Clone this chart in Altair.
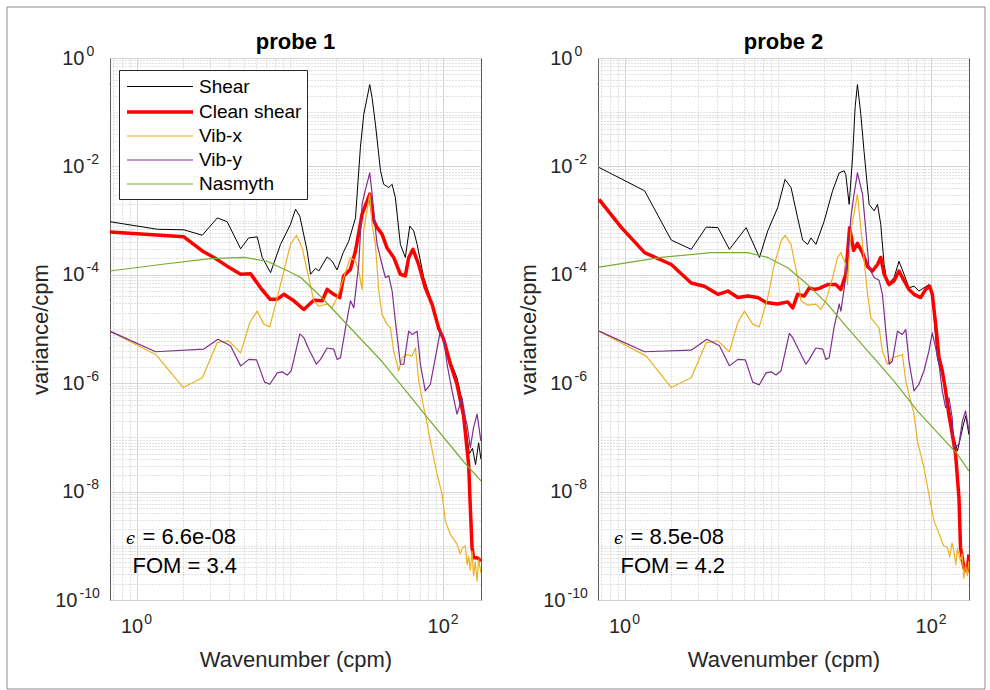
import pandas as pd
import altair as alt

FONT = "Liberation Sans, Arial, Helvetica, sans-serif"

SERIES = ["Shear", "Clean shear", "Vib-x", "Vib-y", "Nasmyth"]
COLORS = ["#000000", "#ff0000", "#edb120", "#7e2f8e", "#77ac30"]
WIDTHS = [1.0, 3.5, 1.2, 1.2, 1.2]

K_RANGE = [0.67, 176.0]     # wavenumber axis (cpm)
P_RANGE = [1e-10, 1.0]      # spectrum axis (variance/cpm)

# Spectra as (log10 wavenumber [cpm], log10 spectrum [variance/cpm]) pairs.
# ---------------- probe 1 ----------------
P1_SHEAR = [(-0.175, -3.02), (0.135, -3.16), (0.308, -3.17), (0.428, -3.27), (0.526, -2.95),
            (0.59, -3.02), (0.678, -3.52), (0.73, -3.32), (0.786, -3.30), (0.819, -3.68),
            (0.873, -3.96), (0.938, -3.44), (1.003, -3.07), (1.036, -2.79), (1.064, -2.92),
            (1.112, -3.56), (1.134, -3.99), (1.166, -3.88), (1.188, -3.93), (1.242, -3.67),
            (1.275, -3.75), (1.307, -3.91), (1.347, -3.59), (1.383, -3.38), (1.427, -2.95),
            (1.459, -1.65), (1.481, -1.04), (1.503, -0.73), (1.52, -0.49), (1.535, -0.73),
            (1.557, -1.22), (1.59, -2.08), (1.611, -2.33), (1.644, -2.39), (1.666, -2.33),
            (1.687, -2.58), (1.72, -3.44), (1.752, -3.68), (1.781, -3.10), (1.807, -3.19),
            (1.829, -3.44), (1.872, -4.05), (1.915, -4.42), (1.959, -4.91), (2.002, -5.16),
            (2.046, -5.59), (2.089, -5.90), (2.12, -6.3), (2.15, -6.9), (2.17, -7.3),
            (2.19, -7.2), (2.21, -7.5), (2.23, -7.1), (2.245, -7.4)]
P1_CLEAN = [(-0.175, -3.21), (0.308, -3.30), (0.428, -3.56), (0.504, -3.68), (0.59, -3.84),
            (0.678, -3.99), (0.743, -3.98), (0.808, -4.24), (0.869, -4.45), (0.917, -4.45),
            (0.96, -4.36), (1.025, -4.48), (1.09, -4.64), (1.155, -4.47), (1.21, -4.48),
            (1.242, -4.27), (1.285, -4.36), (1.324, -4.42), (1.35, -4.02), (1.394, -3.90),
            (1.427, -3.56), (1.47, -2.88), (1.52, -2.51), (1.546, -3.0), (1.568, -3.13),
            (1.60, -3.25), (1.632, -3.50), (1.676, -3.68), (1.72, -3.99), (1.752, -4.02),
            (1.774, -3.68), (1.802, -3.53), (1.839, -3.81), (1.882, -4.24), (1.926, -4.54),
            (1.969, -4.98), (2.002, -5.19), (2.046, -5.65), (2.089, -6.02), (2.132, -6.6),
            (2.165, -7.5), (2.176, -8.3), (2.187, -9.03), (2.197, -9.22), (2.22, -9.22),
            (2.245, -9.28)]
P1_VIBX = [(-0.175, -5.04), (0.124, -5.47), (0.304, -6.08), (0.428, -5.90), (0.526, -5.25),
           (0.601, -5.22), (0.678, -5.44), (0.738, -4.88), (0.786, -4.67), (0.829, -4.91),
           (0.868, -4.96), (0.917, -4.42), (0.96, -3.93), (1.003, -3.44), (1.042, -3.27),
           (1.079, -3.50), (1.122, -4.05), (1.155, -4.48), (1.188, -4.58), (1.242, -4.54),
           (1.275, -4.61), (1.307, -4.42), (1.35, -4.05), (1.394, -3.68), (1.427, -3.75),
           (1.448, -3.93), (1.47, -4.27), (1.48, -3.19), (1.52, -2.51), (1.535, -3.07),
           (1.557, -3.44), (1.579, -4.30), (1.60, -4.73), (1.632, -4.91), (1.655, -4.98),
           (1.676, -5.41), (1.709, -5.77), (1.731, -5.53), (1.763, -5.47), (1.796, -5.50),
           (1.818, -5.35), (1.84, -5.96), (1.872, -6.45), (1.882, -6.57), (1.915, -7.07),
           (1.959, -7.68), (1.992, -8.05), (2.013, -8.54), (2.046, -8.79), (2.089, -8.97),
           (2.11, -9.15), (2.122, -9.05), (2.143, -9.0), (2.155, -9.35), (2.165, -9.20),
           (2.176, -9.45), (2.187, -9.10), (2.197, -9.55), (2.208, -9.30), (2.22, -9.65),
           (2.23, -9.25), (2.245, -9.50)]
P1_VIBY = [(-0.175, -5.04), (0.124, -5.42), (0.438, -5.37), (0.53, -5.19), (0.612, -5.31),
           (0.678, -5.68), (0.732, -5.56), (0.782, -5.57), (0.834, -5.98), (0.868, -6.02),
           (0.917, -5.81), (0.949, -5.79), (0.982, -5.85), (1.008, -5.77), (1.064, -5.09),
           (1.09, -5.16), (1.122, -5.37), (1.172, -5.65), (1.199, -5.56), (1.242, -5.35),
           (1.285, -5.37), (1.307, -5.56), (1.329, -5.53), (1.362, -4.98), (1.394, -4.48),
           (1.416, -4.61), (1.448, -3.81), (1.47, -2.70), (1.49, -2.45), (1.52, -2.12),
           (1.535, -2.5), (1.55, -2.95), (1.568, -3.44), (1.60, -3.81), (1.622, -4.05),
           (1.644, -4.02), (1.666, -4.30), (1.687, -4.85), (1.72, -5.65), (1.742, -5.65),
           (1.774, -5.04), (1.796, -5.10), (1.829, -5.04), (1.85, -5.65), (1.882, -6.14),
           (1.915, -6.02), (1.948, -5.53), (1.98, -5.04), (2.002, -5.16), (2.024, -5.65),
           (2.057, -6.14), (2.089, -6.57), (2.122, -6.27), (2.143, -6.64), (2.154, -6.76),
           (2.176, -7.19), (2.197, -6.82), (2.22, -6.57), (2.245, -7.07)]
P1_NASMYTH = [(-0.175, -3.93), (0.156, -3.81), (0.48, -3.70), (0.70, -3.68), (0.85, -3.75),
              (0.98, -3.92), (1.07, -4.05), (1.2, -4.40), (1.3, -4.70), (1.4, -5.0),
              (1.6, -5.6), (1.7, -5.95), (1.9, -6.65), (2.13, -7.44), (2.245, -7.80)]

# ---------------- probe 2 ----------------
P2_SHEAR = [(-0.167, -2.02), (0.13, -2.45), (0.304, -3.36), (0.434, -3.53), (0.532, -3.12),
            (0.608, -3.13), (0.683, -3.53), (0.792, -3.13), (0.879, -3.68), (0.933, -3.19),
            (0.998, -2.76), (1.046, -2.24), (1.085, -2.39), (1.128, -2.95), (1.161, -3.36),
            (1.193, -3.44), (1.215, -3.32), (1.247, -3.44), (1.301, -3.01), (1.356, -2.45),
            (1.399, -2.12), (1.431, -2.08), (1.442, -2.15), (1.464, -2.70), (1.486, -1.84),
            (1.503, -0.9), (1.518, -0.49), (1.54, -1.04), (1.561, -1.72), (1.594, -2.70),
            (1.627, -2.82), (1.649, -2.70), (1.670, -3.07), (1.692, -3.81), (1.714, -4.18),
            (1.757, -4.05), (1.789, -3.75), (1.822, -3.99), (1.854, -4.24), (1.887, -4.21),
            (1.919, -4.30), (1.952, -4.24), (1.984, -4.18), (2.006, -4.36), (2.021, -4.91),
            (2.039, -5.53), (2.06, -5.77), (2.082, -5.90), (2.104, -6.27), (2.125, -6.60),
            (2.147, -7.0), (2.17, -7.25), (2.19, -7.0), (2.21, -6.75), (2.225, -6.6),
            (2.245, -6.95)]
P2_CLEAN = [(-0.167, -2.61), (-0.021, -3.13), (0.13, -3.59), (0.304, -3.81), (0.434, -4.15),
            (0.52, -4.21), (0.608, -4.36), (0.673, -4.30), (0.738, -4.42), (0.803, -4.39),
            (0.868, -4.42), (0.922, -4.51), (0.998, -4.54), (1.063, -4.50), (1.096, -4.61),
            (1.128, -4.36), (1.171, -4.39), (1.204, -4.24), (1.236, -4.27), (1.269, -4.25),
            (1.323, -4.18), (1.377, -4.18), (1.41, -4.27), (1.442, -3.99), (1.467, -3.13),
            (1.493, -3.55), (1.518, -3.42), (1.551, -3.59), (1.584, -3.85), (1.616, -3.93),
            (1.649, -3.81), (1.670, -3.68), (1.692, -3.99), (1.724, -4.18), (1.757, -4.11),
            (1.789, -3.93), (1.822, -4.11), (1.854, -4.27), (1.887, -4.36), (1.930, -4.42),
            (1.963, -4.27), (1.989, -4.21), (2.006, -4.36), (2.028, -4.91), (2.05, -5.53),
            (2.071, -5.77), (2.093, -6.14), (2.115, -6.6), (2.125, -6.75), (2.158, -7.31),
            (2.18, -8.11), (2.19, -9.03), (2.212, -9.40), (2.234, -9.47), (2.245, -9.16)]
P2_VIBX = [(-0.167, -5.04), (0.141, -5.50), (0.304, -6.08), (0.434, -5.90), (0.532, -5.25),
           (0.608, -5.22), (0.683, -5.42), (0.738, -4.88), (0.781, -4.67), (0.835, -4.91),
           (0.878, -4.96), (0.933, -4.42), (0.976, -3.81), (1.02, -3.38), (1.046, -3.27),
           (1.085, -3.44), (1.128, -4.05), (1.15, -4.48), (1.193, -4.56), (1.247, -4.54),
           (1.28, -4.64), (1.312, -4.48), (1.356, -4.05), (1.388, -3.68), (1.41, -3.59),
           (1.442, -3.81), (1.453, -4.18), (1.475, -3.19), (1.518, -2.51), (1.551, -3.44),
           (1.584, -4.36), (1.605, -4.79), (1.638, -4.91), (1.659, -4.98), (1.681, -5.41),
           (1.714, -5.65), (1.746, -5.53), (1.779, -5.50), (1.811, -5.47), (1.833, -5.96),
           (1.865, -6.33), (1.887, -6.57), (1.909, -7.07), (1.952, -7.56), (1.984, -8.05),
           (2.017, -8.54), (2.06, -8.85), (2.08, -9.0), (2.104, -9.03), (2.12, -9.2),
           (2.135, -8.95), (2.147, -9.10), (2.16, -9.35), (2.17, -9.05), (2.19, -9.28),
           (2.20, -9.15), (2.212, -9.6), (2.223, -9.35), (2.235, -9.55), (2.245, -9.28)]
P2_VIBY = [(-0.167, -5.04), (0.13, -5.42), (0.434, -5.39), (0.536, -5.19), (0.618, -5.31),
           (0.683, -5.68), (0.738, -5.56), (0.787, -5.57), (0.835, -5.98), (0.878, -6.03),
           (0.922, -5.81), (0.955, -5.79), (0.987, -5.85), (1.02, -5.77), (1.074, -5.08),
           (1.096, -5.16), (1.132, -5.37), (1.182, -5.65), (1.204, -5.56), (1.247, -5.35),
           (1.291, -5.37), (1.312, -5.56), (1.334, -5.53), (1.366, -4.96), (1.399, -4.54),
           (1.41, -4.67), (1.442, -4.05), (1.475, -2.95), (1.496, -2.51), (1.518, -2.12),
           (1.551, -2.51), (1.573, -3.19), (1.594, -3.87), (1.627, -4.05), (1.659, -4.1),
           (1.681, -4.36), (1.703, -5.04), (1.725, -5.65), (1.746, -5.59), (1.779, -5.04),
           (1.811, -5.10), (1.833, -5.01), (1.854, -5.59), (1.887, -6.14), (1.919, -6.02),
           (1.952, -5.77), (1.984, -5.41), (2.006, -5.07), (2.028, -5.35), (2.05, -5.65),
           (2.071, -6.14), (2.093, -6.45), (2.115, -6.27), (2.136, -6.64), (2.147, -7.19),
           (2.18, -7.13), (2.202, -6.70), (2.223, -6.51), (2.245, -6.88)]
P2_NASMYTH = [(-0.167, -3.86), (0.239, -3.68), (0.564, -3.59), (0.803, -3.59), (0.933, -3.68),
              (1.063, -3.87), (1.193, -4.18), (1.323, -4.54), (1.453, -4.98), (1.67, -5.68),
              (1.757, -5.96), (1.909, -6.51), (2.169, -7.31), (2.245, -7.62)]

PROBES = ["probe 1", "probe 2"]
SPECTRA = {
    "probe 1": [P1_SHEAR, P1_CLEAN, P1_VIBX, P1_VIBY, P1_NASMYTH],
    "probe 2": [P2_SHEAR, P2_CLEAN, P2_VIBX, P2_VIBY, P2_NASMYTH],
}
EPSILON = {"probe 1": "6.6e-08", "probe 2": "8.5e-08"}
FOM = {"probe 1": "3.4", "probe 2": "4.2"}


def probe_frame(name):
    rows = []
    for series, pairs in zip(SERIES, SPECTRA[name]):
        for lk, lp in pairs:
            rows.append({"series": series, "k": 10.0 ** lk, "p": 10.0 ** lp})
    return pd.DataFrame(rows)


# log-axis helpers: grid at every 1..9 x 10^n, labels "10" + raised exponent at even decades
EXP = "round(log(datum.value) / LN10)"
IS_DECADE = f"abs(log(datum.value) / LN10 - {EXP}) < 1e-6"
IS_MAJOR = f"({IS_DECADE}) && (({EXP}) % 2 == 0)"
BASE_LABEL = f"({IS_MAJOR}) ? '10' : ''"
EXP_LABEL = f"({IS_MAJOR}) ? '' + {EXP} : ''"
TWO_DIGIT = f"{EXP} <= -10"

Y_TICKS = [m * 10.0 ** e for e in range(-10, 0) for m in range(1, 10)] + [1.0]
X_TICKS = [m * 10.0 ** e for e in range(-1, 3) for m in range(1, 10)
           if K_RANGE[0] <= m * 10.0 ** e <= K_RANGE[1]]

GRID_COLOR = {"condition": {"test": IS_MAJOR, "value": "#d4d4d4"}, "value": "#c4c4c4"}
GRID_DASH = {"condition": {"test": IS_MAJOR, "value": []}, "value": [1, 2]}

W, H = 371, 542
LABEL_STYLE = dict(ticks=False, tickSize=0, domain=False, labelOverlap=False, labelFont=FONT,
                   labelColor="#262626", titleFont=FONT, titleFontSize=22,
                   titleFontWeight="normal", titleColor="#262626")

X_AXIS = alt.Axis(values=X_TICKS, labelExpr=BASE_LABEL, grid=True, gridColor=GRID_COLOR,
                  gridDash=GRID_DASH, gridWidth=1, labelFontSize=20, labelAlign="right",
                  labelOffset=6, labelPadding=16, titleX=W / 2, titleY=66,
                  titleBaseline="alphabetic", titleAlign="center", **LABEL_STYLE)
X_EXP_AXIS = alt.Axis(values=X_TICKS, labelExpr=EXP_LABEL, grid=False, orient="bottom",
                      labelFontSize=14, labelAlign="left", labelOffset=7, labelPadding=12,
                      title=None, **LABEL_STYLE)
Y_AXIS = alt.Axis(values=Y_TICKS, labelExpr=BASE_LABEL, grid=True, gridColor=GRID_COLOR,
                  gridDash=GRID_DASH, gridWidth=1, labelFontSize=20, labelAlign="right",
                  labelBaseline="middle",
                  labelPadding={"condition": {"test": TWO_DIGIT, "value": 33}, "value": 26},
                  titleX=-70, titleY=H / 2, titleAngle=-90, titleAlign="center",
                  titleBaseline="middle", **LABEL_STYLE)
Y_EXP_AXIS = alt.Axis(values=Y_TICKS, labelExpr=EXP_LABEL, grid=False, orient="left",
                      labelFontSize=14, labelAlign="left", labelBaseline="middle",
                      labelOffset=-7,
                      labelPadding={"condition": {"test": TWO_DIGIT, "value": 31}, "value": 24},
                      title=None, **LABEL_STYLE)


def panel(name, with_legend, with_frame):
    df = probe_frame(name)
    legend = None
    if with_legend:
        legend = alt.Legend(orient="none", legendX=9, legendY=12, title=None,
                            symbolType="M-3,0H3", symbolSize=484, symbolOffset=23,
                            labelOffset=26, labelFont=FONT, labelFontSize=19,
                            labelColor="#000000", fillColor="#ffffff", strokeColor="#262626",
                            padding=5, rowPadding=2, cornerRadius=0)
    x_scale = alt.Scale(type="log", domain=K_RANGE, nice=False)
    y_scale = alt.Scale(type="log", domain=P_RANGE, nice=False)
    color = alt.Color("series:N", scale=alt.Scale(domain=SERIES, range=COLORS), legend=legend)
    width = alt.StrokeWidth("series:N", scale=alt.Scale(type="ordinal", domain=SERIES,
                                                        range=WIDTHS), legend=legend)

    layers = []
    for i, s in enumerate(SERIES):
        # first series carries the "10" labels and grid, second the exponents
        if i == 0:
            xa, ya = X_AXIS, Y_AXIS
        elif i == 1:
            xa, ya = X_EXP_AXIS, Y_EXP_AXIS
        else:
            xa, ya = None, None
        layers.append(
            alt.Chart(df).transform_filter(alt.datum.series == s)
            .mark_line(clip=True, strokeJoin="round")
            .encode(
                x=alt.X("k:Q", title="Wavenumber (cpm)" if i == 0 else None, axis=xa,
                        scale=x_scale),
                y=alt.Y("p:Q", title="variance/cpm" if i == 0 else None, axis=ya,
                        scale=y_scale),
                color=color,
                strokeWidth=width,
            )
        )

    one = alt.Data(values=[{}])
    # panel heading
    layers.append(alt.Chart(one).mark_text(text=name, font=FONT, fontSize=22, fontWeight="bold",
                                           align="center", baseline="alphabetic",
                                           color="#000000")
                  .encode(x=alt.value(W / 2), y=alt.value(-9)))
    # dissipation rate and figure of merit
    layers.append(alt.Chart(one).mark_text(text="ϵ", font="DejaVu Serif", fontStyle="italic",
                                           fontSize=16, align="left", baseline="alphabetic",
                                           color="#000000")
                  .encode(x=alt.value(16), y=alt.value(486)))
    layers.append(alt.Chart(one).mark_text(text=f"= {EPSILON[name]}", font=FONT, fontSize=22,
                                           align="left", baseline="alphabetic", color="#000000")
                  .encode(x=alt.value(32.5), y=alt.value(486)))
    layers.append(alt.Chart(one).mark_text(text=f"FOM = {FOM[name]}", font=FONT, fontSize=22,
                                           align="left", baseline="alphabetic", color="#000000")
                  .encode(x=alt.value(22.5), y=alt.value(515)))
    if with_frame:
        # figure border drawn around both panels
        layers.append(alt.Chart(one).mark_rect(fill="transparent", stroke="#8c8c8c",
                                               strokeWidth=1)
                      .encode(x=alt.value(-103), x2=alt.value(875),
                              y=alt.value(-51), y2=alt.value(631)))

    return (alt.layer(*layers).resolve_axis(x="independent", y="independent")
            .properties(width=W, height=H))


chart = alt.hconcat(
    panel("probe 1", True, True),
    panel("probe 2", False, False),
    spacing=117, bounds="flush",
).resolve_scale(color="independent", strokeWidth="independent").properties(
    padding={"left": 6, "top": 6, "right": 0, "bottom": 0},
    background="#ffffff",
).configure_view(stroke="#5a5a5a", strokeWidth=1)

chart.save("out.html", embed_options={"renderer": "svg", "actions": False})
